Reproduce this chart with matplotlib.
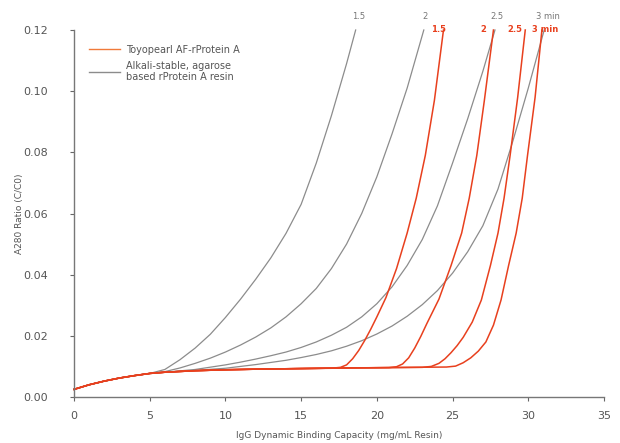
import matplotlib
matplotlib.use("Agg")
import matplotlib.pyplot as plt
from matplotlib.lines import Line2D

# ---------------- data ----------------
base_x = [0, 1, 2, 3, 4, 5]
base_y = [0.0025, 0.0040, 0.0052, 0.0062, 0.0070, 0.0077]

# Alkali-stable, agarose based rProtein A resin (gray)
g15_x = base_x + [6, 7, 8, 9, 10, 11, 12, 13, 14, 15, 16, 17, 18, 18.6]
g15_y = base_y + [0.0090, 0.0122, 0.0160, 0.0205, 0.0260, 0.0320, 0.0385, 0.0455, 0.0535,
                  0.0630, 0.0765, 0.0920, 0.1090, 0.1200]

g2_x = base_x + [6, 7, 8, 9, 10, 11, 12, 13, 14, 15, 16, 17, 18, 19, 20, 21, 22, 23.1]
g2_y = base_y + [0.0083, 0.0095, 0.0110, 0.0127, 0.0147, 0.0170, 0.0196, 0.0226, 0.0262,
                 0.0305, 0.0355, 0.0420, 0.0500, 0.0600, 0.0720, 0.0860, 0.1010, 0.1200]

g25_x = base_x + [6, 8, 10, 11, 12, 13, 14, 15, 16, 17, 18, 19, 20, 21, 22, 23, 24, 25, 26, 27, 27.8]
g25_y = base_y + [0.0081, 0.0090, 0.0105, 0.0114, 0.0124, 0.0135, 0.0147, 0.0162, 0.0180,
                  0.0202, 0.0228, 0.0262, 0.0305, 0.0360, 0.0430, 0.0515, 0.0625, 0.0765,
                  0.0910, 0.1065, 0.1200]

g3_x = base_x + [6, 8, 10, 12, 14, 15, 16, 17, 18, 19, 20, 21, 22, 23, 24, 25, 26, 27, 28, 29, 30, 31.05]
g3_y = base_y + [0.0081, 0.0087, 0.0094, 0.0106, 0.0120, 0.0129, 0.0139, 0.0151, 0.0166,
                 0.0184, 0.0206, 0.0232, 0.0264, 0.0302, 0.0348, 0.0405, 0.0475, 0.0560,
                 0.0680, 0.0840, 0.1010, 0.1200]

# Toyopearl AF-rProtein A (red)
plateau_x = [6, 8, 10, 12, 15]
plateau_y = [0.0081, 0.0086, 0.0089, 0.0091, 0.0093]

r15_x = base_x + plateau_x + [17.0, 17.6, 18.0, 18.4, 18.8, 19.2, 19.6, 20.0, 20.6, 21.3,
                              22.0, 22.6, 23.2, 23.8, 24.4]
r15_y = base_y + plateau_y + [0.0094, 0.0097, 0.0105, 0.0125, 0.0152, 0.0185, 0.0222, 0.0262,
                              0.0325, 0.0420, 0.0536, 0.0650, 0.0790, 0.0970, 0.1200]

r2_x = base_x + plateau_x + [18.0, 20.8, 21.3, 21.7, 22.1, 22.5, 22.9, 23.3, 23.7, 24.1,
                             24.9, 25.6, 26.1, 26.6, 27.1, 27.7]
r2_y = base_y + plateau_y + [0.0095, 0.0096, 0.0099, 0.0108, 0.0128, 0.0160, 0.0198, 0.0240,
                             0.0280, 0.0320, 0.0430, 0.0536, 0.0650, 0.0790, 0.0970, 0.1200]

r25_x = base_x + plateau_x + [18.0, 23.0, 23.6, 24.1, 24.5, 24.9, 25.3, 25.7, 26.3, 26.9,
                              27.5, 28.0, 28.4, 28.8, 29.3, 29.8]
r25_y = base_y + plateau_y + [0.0095, 0.0097, 0.0100, 0.0110, 0.0125, 0.0145, 0.0168, 0.0195,
                              0.0245, 0.0317, 0.0430, 0.0536, 0.0650, 0.0790, 0.0980, 0.1200]

r3_x = base_x + plateau_x + [18.0, 24.6, 25.2, 25.7, 26.2, 26.7, 27.2, 27.7, 28.2, 28.7,
                             29.2, 29.6, 29.95, 30.45, 30.9]
r3_y = base_y + plateau_y + [0.0095, 0.0098, 0.0101, 0.0112, 0.0128, 0.0150, 0.0180, 0.0235,
                             0.0317, 0.0430, 0.0536, 0.0650, 0.0790, 0.0980, 0.1200]

gray_labels = ["1.5", "2", "2.5", "3 min"]
gray_label_x = [18.8, 23.2, 27.9, 31.3]
red_labels = ["1.5", "2", "2.5", "3 min"]
red_label_x = [24.1, 27.0, 29.1, 31.1]

x_ticks = [0, 5, 10, 15, 20, 25, 30, 35]
y_ticks = [0.00, 0.02, 0.04, 0.06, 0.08, 0.10, 0.12]

RED = "#e8401e"
GRAY = "#8c8c8c"
TXT = "#555555"

fig = plt.figure(figsize=(6.2, 4.43), dpi=100)
ax = fig.add_axes([74 / 620, 1 - 397 / 443, (604 - 74) / 620, (397 - 30) / 443])

for xs, ys in [(g15_x, g15_y), (g2_x, g2_y), (g25_x, g25_y), (g3_x, g3_y)]:
    ax.plot(xs, ys, color=GRAY, lw=0.9, clip_on=False, solid_joinstyle="round")
for xs, ys in [(r15_x, r15_y), (r2_x, r2_y), (r25_x, r25_y), (r3_x, r3_y)]:
    ax.plot(xs, ys, color=RED, lw=1.1, clip_on=False, solid_joinstyle="round")

for lab, lx in zip(gray_labels, gray_label_x):
    ax.text(lx, 0.1243, lab, color="#777777", fontsize=6, ha="center", va="center", clip_on=False)
for lab, lx in zip(red_labels, red_label_x):
    ax.text(lx, 0.1200, lab, color=RED, fontsize=6, ha="center", va="center",
            fontweight="bold", clip_on=False)

ax.set_xlim(0, 35)
ax.set_ylim(0, 0.12)
ax.set_xticks(x_ticks)
ax.set_yticks(y_ticks)
ax.set_xticklabels([str(t) for t in x_ticks])
ax.set_yticklabels([f"{t:.2f}" for t in y_ticks])
ax.tick_params(axis="both", colors="#666666", labelcolor=TXT, labelsize=8, length=3, width=0.8)
ax.tick_params(axis="y", pad=16)
ax.tick_params(axis="x", pad=7)

for s in ["top", "right"]:
    ax.spines[s].set_visible(False)
for s in ["left", "bottom"]:
    ax.spines[s].set_color("#777777")
    ax.spines[s].set_linewidth(1.0)

ax.set_xlabel("IgG Dynamic Binding Capacity (mg/mL Resin)", fontsize=6.5, color=TXT, labelpad=7)
ax.yaxis.set_label_coords(-0.095, 0.5)
ax.set_ylabel("A280 Ratio (C/C0)", fontsize=6.5, color=TXT)

handles = [Line2D([], [], color="#f07a3a", lw=1.0),
           Line2D([], [], color=GRAY, lw=1.0)]
leg = ax.legend(handles, ["Toyopearl AF-rProtein A", "Alkali-stable, agarose\nbased rProtein A resin"],
                loc="upper left", bbox_to_anchor=(80 / 620, 1 - 36 / 443), bbox_transform=fig.transFigure,
                frameon=False, fontsize=7, handlelength=3.2, handletextpad=0.6, labelspacing=0.6,
                labelcolor=TXT)

fig.savefig("out.png", dpi=100)
